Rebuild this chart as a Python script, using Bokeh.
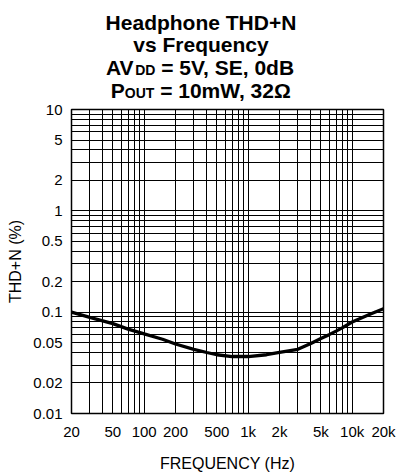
from bokeh.plotting import figure
from bokeh.models import Range1d, FixedTicker
from bokeh.layouts import column
from bokeh.embed import file_html
from bokeh.resources import INLINE
from bokeh.core.properties import value

# ---- data ----
freq_hz = [20, 30, 50, 70, 100, 150, 200, 300, 400, 500, 700, 1000, 1500,
           2000, 3000, 4000, 5000, 6000, 7000, 8000, 10000, 15000, 20000]
thd_pct = [0.100, 0.089, 0.077, 0.068, 0.061, 0.054, 0.0485, 0.043, 0.040,
           0.038, 0.0365, 0.0365, 0.038, 0.040, 0.043, 0.049, 0.055, 0.060,
           0.065, 0.070, 0.080, 0.096, 0.108]

x_ticks = [20, 50, 100, 200, 500, 1000, 2000, 5000, 10000, 20000]
x_tick_labels = ["20", "50", "100", "200", "500", "1k", "2k", "5k", "10k", "20k"]
y_ticks = [0.01, 0.02, 0.05, 0.1, 0.2, 0.5, 1, 2, 5, 10]
y_tick_labels = ["0.01", "0.02", "0.05", "0.1", "0.2", "0.5", "1", "2", "5", "10"]

x_grid = [m * 10 ** e for e in range(1, 5) for m in range(1, 10) if 20 <= m * 10 ** e <= 20000]
y_grid = [round(m * 10.0 ** e, 6) for e in range(-2, 1) for m in range(1, 10)] + [10]

title_lines = [
    [("Headphone THD+N", "main")],
    [("vs Frequency", "main")],
    [("AV", "main"), ("DD", "sub"), (" = 5V, SE, 0dB", "main")],
    [("P", "main"), ("OUT", "sub"), (" = 10mW, 32\u03a9", "main")],
]

FONT = "Liberation Sans"
W, H = 396, 474
TITLE_H = 101
FL, FR = 71, 13
PT, PB = 8, 58                      # plot figure top / bottom borders
MAIN_PX = 21
SUB_PX = 14

# Arial/Liberation Sans Bold advance widths (1/1000 em)
BOLD_W = {"A": 722, "V": 667, "D": 722, " ": 278, "=": 584, "5": 556, ",": 278,
          "S": 667, "E": 667, "0": 556, "d": 611, "B": 722, "P": 667, "O": 778,
          "U": 722, "T": 611, "1": 556, "m": 889, "W": 944, "3": 556, "2": 556,
          "\u03a9": 768, "H": 722, "e": 556, "a": 556, "p": 611, "h": 611,
          "o": 611, "n": 611, "+": 584, "N": 722, "v": 556, "s": 556, "F": 611,
          "r": 389, "q": 611, "u": 611, "c": 556, "y": 556}


def text_w(s, px):
    return sum(BOLD_W.get(ch, 600) for ch in s) * px / 1000.0


# ---- title figure: its frame shares the plot's horizontal borders; data units = page pixels ----
t = figure(width=W, height=TITLE_H, x_range=Range1d(FL, W - FR), y_range=Range1d(TITLE_H, 0),
           output_backend="svg", toolbar_location=None,
           min_border_left=FL, min_border_right=FR, min_border_top=0, min_border_bottom=0,
           x_axis_location=None, y_axis_location=None)
t.grid.visible = False
t.outline_line_color = None
t.background_fill_color = "white"
t.border_fill_color = "white"

center_abs = 200.5
baselines_abs = [21.5, 43.5, 67, 89.5]
sub_shift = 2.5

for line, base in zip(title_lines, baselines_abs):
    total = sum(text_w(s, MAIN_PX if kind == "main" else SUB_PX) for s, kind in line)
    x = center_abs - total / 2.0
    for s, kind in line:
        px = MAIN_PX if kind == "main" else SUB_PX
        lead = len(s) - len(s.lstrip(" "))
        xs = x + text_w(" " * lead, px)
        t.text(x=[xs], y=[base + (sub_shift if kind == "sub" else 0)], text=[s.lstrip(" ")],
               text_font=value(FONT), text_font_style="bold",
               text_font_size=f"{px}px", text_align="left", text_baseline="alphabetic",
               text_line_height=1.0, text_color="black")
        x += text_w(s, px)

# ---- main plot ----
p = figure(width=W, height=H - TITLE_H, x_axis_type="log", y_axis_type="log",
           x_range=Range1d(20, 20000), y_range=Range1d(0.01, 10),
           output_backend="svg", toolbar_location=None,
           min_border_left=FL, min_border_right=FR, min_border_top=PT, min_border_bottom=PB)
p.background_fill_color = "white"
p.border_fill_color = "white"
p.outline_line_color = "black"
p.outline_line_width = 1.5

p.xaxis.ticker = FixedTicker(ticks=x_ticks)
p.yaxis.ticker = FixedTicker(ticks=y_ticks)
p.xaxis.major_label_overrides = dict(zip(x_ticks, x_tick_labels))
p.yaxis.major_label_overrides = dict(zip(y_ticks, y_tick_labels))
p.xgrid.ticker = FixedTicker(ticks=x_grid)
p.ygrid.ticker = FixedTicker(ticks=y_grid)
for g in (p.xgrid, p.ygrid):
    g.grid_line_color = "black"
    g.grid_line_alpha = 1.0
    g.grid_line_width = 1

for ax in (p.xaxis, p.yaxis):
    ax.axis_line_color = None
    ax.major_tick_in = 0
    ax.major_tick_out = 0
    ax.minor_tick_line_color = None
    ax.major_label_text_font = FONT
    ax.major_label_text_font_size = "15px"
    ax.major_label_text_color = "black"
    ax.axis_label_text_font = FONT
    ax.axis_label_text_font_size = "16px"
    ax.axis_label_text_font_style = "normal"
    ax.axis_label_text_color = "black"
    ax.major_label_standoff = 9

p.xaxis.axis_label = "FREQUENCY (Hz)"
p.yaxis.axis_label = "THD+N (%)"
p.xaxis.axis_label_standoff = 12
p.yaxis.axis_label_standoff = 6

p.line(freq_hz, thd_pct, line_color="black", line_width=3.3)

layout = column(t, p, spacing=0)
open("out.html", "w").write(file_html(layout, INLINE))
